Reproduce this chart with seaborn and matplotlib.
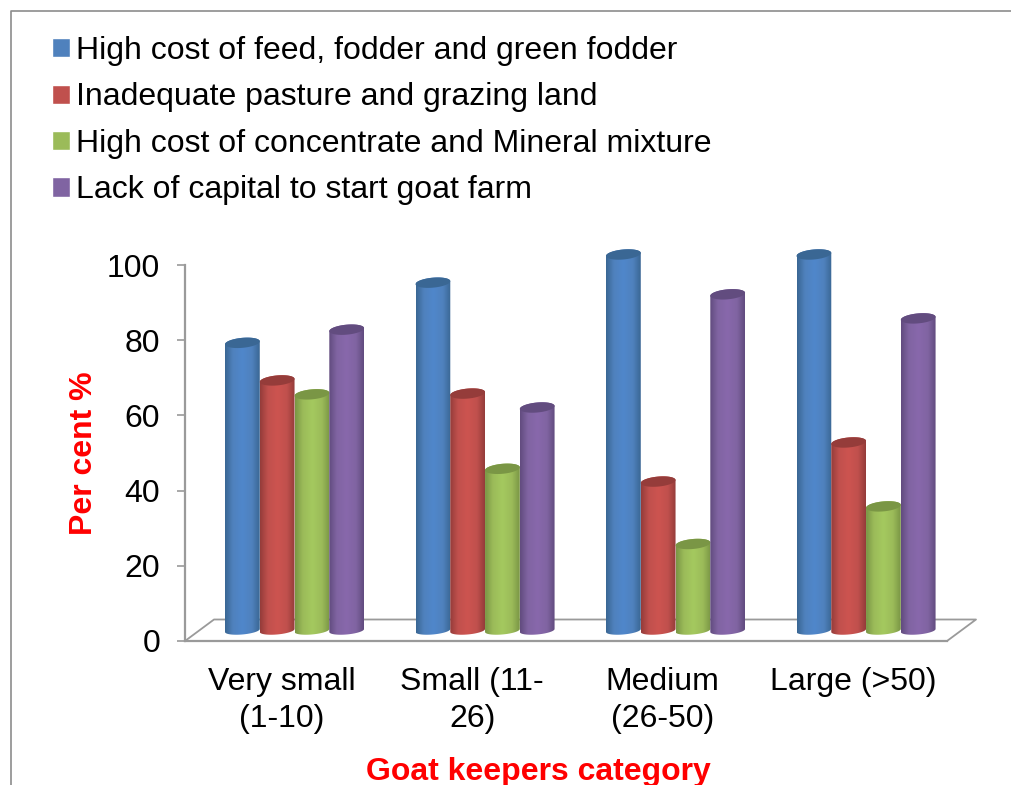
import numpy as np
import pandas as pd
import seaborn as sns
import matplotlib.pyplot as plt
from matplotlib.colors import LinearSegmentedColormap
from matplotlib.lines import Line2D
from matplotlib.patches import Polygon

categories = ["Very small\n(1-10)", "Small (11-\n26)", "Medium\n(26-50)", "Large (>50)"]
series = ["High cost of feed, fodder and green fodder",
          "Inadequate pasture and grazing land",
          "High cost of concentrate and Mineral mixture",
          "Lack of capital to start goat farm"]
feed_cost = [76.5, 92.5, 100, 100]
pasture = [66.5, 63, 39.6, 50]
concentrate = [62.8, 43, 23, 33]
capital = [80, 59.3, 89.4, 83]
y_ticks = [0, 20, 40, 60, 80, 100]

colors = ["#4F81BD", "#C0504D", "#9BBB59", "#8064A2"]
bright = ["#5087CB", "#CD5450", "#A4C95F", "#8868AC"]
caps = ["#3A6794", "#953C3A", "#7A9645", "#624C7F"]
W, H = 1011, 785
LEFT, RIGHT, TOP0, BOT = 185, 947, 265, 641
GRAY = "#9a9a9a"
BASE = 2.8  # bars stand in the middle of the 3D floor

rows = []
for name, vals in zip(series, [feed_cost, pasture, concentrate, capital]):
    for c, v in zip(categories, vals):
        rows.append({"cat": c, "series": name, "value": v})
df = pd.DataFrame(rows)

sns.set_theme(style="white")
plt.rcParams["font.family"] = ["Liberation Sans", "DejaVu Sans"]
plt.rcParams["text.color"] = "black"

fig = plt.figure(figsize=(W / 100, H / 100), dpi=100)
ppu = (BOT - TOP0) / 100  # pixels per y unit
ymax = 110
ax = fig.add_axes([LEFT / W, 1 - BOT / H, (RIGHT - LEFT) / W, ymax * ppu / H])

sns.barplot(data=df, x="cat", y="value", hue="series", order=categories, hue_order=series,
            palette=colors, saturation=1, width=0.73, gap=0, errorbar=None, ax=ax)

handles, labels = ax.get_legend_handles_labels()
ax.legend(handles, labels, loc="upper left", bbox_to_anchor=(52 / W, 1 - 36 / H),
          bbox_transform=fig.transFigure, frameon=False, fontsize=23,
          handlelength=0.55, handleheight=0.55, handletextpad=0.19,
          labelspacing=0.515, borderpad=0, borderaxespad=0)


def ellipse(cx, cy, a, b, tilt, t):
    x = cx + a * np.cos(t)
    y = cy + b * np.sin(t) + tilt * np.cos(t)
    return np.column_stack([x, y])


# cylinders replace the plain bars
b_el = 5.0 / ppu
tilt = 1.5 / ppu
for s, cont in enumerate(ax.containers):
    shade = LinearSegmentedColormap.from_list(
        "c%d" % s,
        [(0, caps[s]), (0.22, colors[s]), (0.5, bright[s]), (0.78, colors[s]), (1, caps[s])])
    for bar in cont:
        x0, w, h = bar.get_x(), bar.get_width(), bar.get_height()
        cx = x0 + w / 2
        a = w / 2
        bar.set_visible(False)
        low = ellipse(cx, BASE, a, b_el * 0.8, tilt, np.linspace(np.pi, 2 * np.pi, 40))
        topc = BASE + h
        up = ellipse(cx, topc, a, b_el, tilt, np.linspace(0, np.pi, 40))
        outline = Polygon(np.vstack([low, up]), closed=True, transform=ax.transData,
                          facecolor="none", edgecolor="none")
        ax.add_patch(outline)
        im = ax.imshow(np.linspace(0, 1, 64)[None, :], cmap=shade, aspect="auto",
                       extent=[x0, x0 + w, BASE - 3, topc + 3], zorder=3)
        im.set_clip_path(outline)
        cap = Polygon(ellipse(cx, topc, a, b_el, tilt, np.linspace(0, 2 * np.pi, 60)), closed=True,
                      facecolor=caps[s], edgecolor="none", zorder=3)
        ax.add_patch(cap)
ax.set_xlim(-0.575, 3.425)
ax.set_ylim(0, ymax)

# floor of the 3D box
depth_x, depth_y = 29 / (RIGHT - LEFT), 21.5 / (ymax * ppu)
ax.plot([0, depth_x, 1 + depth_x, 1], [0, depth_y, depth_y, 0], color=GRAY, lw=1.3,
        transform=ax.transAxes, clip_on=False, zorder=1)

sns.despine(ax=ax, top=True, right=True)
ax.spines["left"].set_bounds(0, 100)
for sp in ["left", "bottom"]:
    ax.spines[sp].set_color(GRAY)
    ax.spines[sp].set_linewidth(1.6)
    ax.spines[sp].set_zorder(2)

ax.set_yticks(y_ticks)
ax.tick_params(axis="y", left=True, length=6, width=1.2, color=GRAY, pad=12, labelsize=23, labelcolor="black")
ax.set_xticks(np.arange(4) - 0.067)
ax.set_xticklabels(categories, linespacing=1.27)
ax.tick_params(axis="x", bottom=False, pad=13, labelsize=23, labelcolor="black")

ax.set_xlabel("Goat keepers category", fontsize=23, fontweight="bold", color="#FF0000")
ax.set_ylabel("Per cent %", fontsize=23, fontweight="bold", color="#FF0000")
ax.xaxis.set_label_coords(538 / W, 1 - 757 / H, transform=fig.transFigure)
ax.yaxis.set_label_coords(99 / W, 1 - 453 / H, transform=fig.transFigure)

# outer frame, cut by the image edge
fig.add_artist(Line2D([11 / W, 11 / W, 1], [0, 1 - 11 / H, 1 - 11 / H], color="#8c8c8c", lw=1.2,
                      transform=fig.transFigure))

fig.savefig("out.png", dpi=100, facecolor="white")
